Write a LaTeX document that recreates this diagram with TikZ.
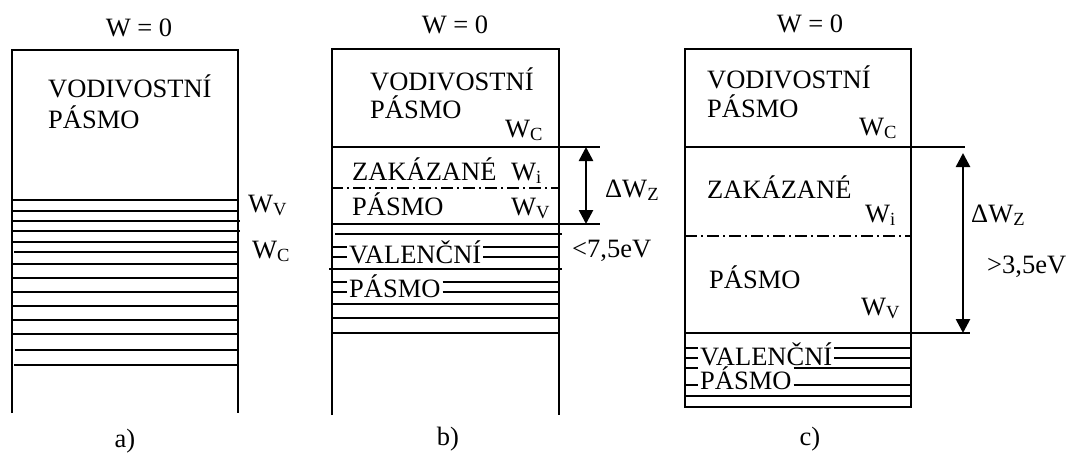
\documentclass[tikz,border=0pt]{standalone}
\usepackage{fontspec}
\setmainfont{Liberation Serif}
\usetikzlibrary{arrows.meta}
\begin{document}
\begin{tikzpicture}[x=1pt,y=-1pt,
  txt/.style={font=\fontsize{26.5}{30}\selectfont, inner sep=0pt, anchor=base west},
  ctxt/.style={txt, anchor=base},
  lbl/.style={txt, inner xsep=2pt, inner ysep=1pt},
  thinl/.style={line width=1.2pt},
  thickl/.style={line width=2.8pt},
  boxl/.style={line width=1.8pt},
  dashdot/.style={line width=1.2pt, dash pattern=on 12pt off 4pt on 2pt off 4pt},
  gaparrow/.style={line width=2.6pt, {Triangle[length=14pt,width=14pt]}-{Triangle[length=14pt,width=14pt]}}
]
\useasboundingbox (0,0) rectangle (1067,456);

% ---------------- panel a ----------------
\draw[boxl] (12,413) -- (12,50) -- (238,50) -- (238,413);
\foreach \y in {211,242,264,278,292,306,320,334}
  \draw[thinl] (12,\y) -- (238,\y);
\draw[thinl] (12,221) -- (240,221);
\draw[thinl] (12,231) -- (240,231);
\draw[thinl] (15,350) -- (238,350);
\draw[thickl] (12,200) -- (238,200);
\draw[thickl] (14,252) -- (238,252);
\draw[thickl] (14,365) -- (238,365);

\node[ctxt] (w0a) at (139,36) {W = 0};
\node[txt] (vpa1) at (48,97) {VODIVOSTNÍ};
\node[txt] (vpa2) at (48,128) {PÁSMO};
\node[txt] (wva) at (248,212) {W\textsubscript{V}};
\node[txt] (wca) at (252,258) {W\textsubscript{C}};
\node[ctxt] (la) at (125,447) {a)};

% ---------------- panel b ----------------
\draw[boxl] (332,415) -- (332,49) -- (559,49) -- (559,415);
\draw[boxl] (332,147) -- (600,147);
\draw[dashdot] (331,188) -- (559,188);
\draw[thickl] (332,224) -- (600,224);
\draw[thinl] (335,234) -- (562,234);
\draw[thinl] (329,269) -- (562,269);
\draw[thinl] (332,304) -- (559,304);
\draw[thinl] (332,318) -- (559,318);
\draw[thickl] (332,333) -- (559,333);

\node[ctxt] (w0b) at (455,33) {W = 0};
\node[txt] (vpb1) at (370,90) {VODIVOSTNÍ};
\node[txt] (vpb2) at (370,118) {PÁSMO};
\node[txt] (wcb) at (505,137) {W\textsubscript{C}};
\node[txt] (zb) at (352,180) {ZAKÁZANÉ};
\node[txt] (wib) at (511,180) {W\textsubscript{i}};
\node[txt] (pb) at (352,215) {PÁSMO};
\node[txt] (wvb) at (511,215) {W\textsubscript{V}};
\node[txt] (dwb) at (605,197) {ΔW\textsubscript{Z}};
\node[txt] (eb) at (572,257) {<7,5eV};
\node[lbl] (valb) at (347,263) {VALENČNÍ};
\node[lbl] (pasb) at (347,297) {PÁSMO};
\node[ctxt] (lb) at (448,445) {b)};

\foreach \y/\n in {247/valb,257/valb,282/pasb,292/pasb}
  \draw[thinl] (332,\y) -- (\n.west |- 0,\y) (\n.east |- 0,\y) -- (559,\y);

\coordinate (ab1) at (586,147);
\coordinate (ab2) at (586,224);
\draw[gaparrow] (ab1) -- (ab2);

% ---------------- panel c ----------------
\draw[boxl] (685,49) rectangle (911,407);
\draw[boxl] (685,147) -- (965,147);
\draw[dashdot] (685,236) -- (911,236);
\draw[thickl] (685,333) -- (970,333);
\draw[thinl] (685,396) -- (911,396);

\node[ctxt] (w0c) at (810,32) {W = 0};
\node[txt] (vpc1) at (707,88) {VODIVOSTNÍ};
\node[txt] (vpc2) at (707,117) {PÁSMO};
\node[txt] (wcc) at (859,135) {W\textsubscript{C}};
\node[txt] (zc) at (707,198) {ZAKÁZANÉ};
\node[txt] (wic) at (865,222) {W\textsubscript{i}};
\node[txt] (dwc) at (971,222) {ΔW\textsubscript{Z}};
\node[txt] (pc) at (709,288) {PÁSMO};
\node[txt] (wvc) at (861,315) {W\textsubscript{V}};
\node[txt] (ec) at (987,273) {>3,5eV};
\node[lbl] (valc) at (698,365) {VALENČNÍ};
\node[lbl] (pasc) at (698,389) {PÁSMO};
\node[ctxt] (lc) at (810,445) {c)};

\foreach \y/\n in {348/valc,358/valc,368/pasc,385/pasc}
  \draw[thinl] (685,\y) -- (\n.west |- 0,\y) (\n.east |- 0,\y) -- (911,\y);

\coordinate (ac1) at (963,153);
\coordinate (ac2) at (963,333);
\draw[gaparrow] (ac1) -- (ac2);
\end{tikzpicture}
\end{document}
